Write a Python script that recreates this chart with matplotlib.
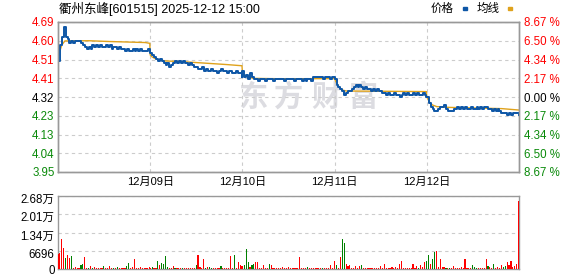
import matplotlib
matplotlib.use('Agg')
import matplotlib.pyplot as plt
import matplotlib.transforms as mtransforms
from matplotlib.patches import Rectangle, PathPatch
from matplotlib.path import Path
import numpy as np

plt.rcParams['font.family'] = ['Liberation Sans', 'Noto Sans CJK SC']

# ---- data (5 trading days, one price every 5 minutes, 241 minutes per day) ----
title = '衢州东峰[601515] 2025-12-12 15:00'
prev_close = 4.32
date_labels = ['12月09日', '12月10日', '12月11日', '12月12日']
price_labels = ['3.95', '4.04', '4.13', '4.23', '4.32', '4.41', '4.51', '4.60', '4.69']
pct_labels = ['8.67 %', '6.50 %', '4.34 %', '2.17 %', '0.00 %', '2.17 %', '4.34 %', '6.50 %', '8.67 %']
vol_ticks = [0, 6696, 13392, 20088, 26784]
vol_labels = ['0', '6696', '1.34万', '2.01万', '2.68万']

day1_price = [4.50, 4.58, 4.62, 4.67, 4.62, 4.61, 4.59, 4.60, 4.59, 4.60,
              4.60, 4.60, 4.59, 4.58, 4.57, 4.56, 4.57, 4.56, 4.58, 4.57,
              4.58, 4.57, 4.58, 4.57, 4.57, 4.58, 4.57, 4.58, 4.56, 4.57,
              4.57, 4.56, 4.57, 4.56, 4.56, 4.55, 4.56, 4.55, 4.55, 4.56,
              4.55, 4.56, 4.55, 4.56, 4.55, 4.55, 4.55, 4.56, 4.55]
day2_price = [4.54, 4.53, 4.52, 4.51, 4.50, 4.51, 4.50, 4.49, 4.48, 4.49,
              4.47, 4.48, 4.49, 4.50, 4.49, 4.50, 4.49, 4.50, 4.49, 4.49,
              4.48, 4.49, 4.48, 4.47, 4.47, 4.46, 4.46, 4.47, 4.45, 4.46,
              4.45, 4.45, 4.46, 4.45, 4.45, 4.44, 4.45, 4.46, 4.45, 4.45,
              4.44, 4.45, 4.45, 4.44, 4.44, 4.45, 4.44, 4.44, 4.42]
day3_price = [4.45, 4.42, 4.43, 4.41, 4.44, 4.42, 4.41, 4.41, 4.40, 4.41,
              4.41, 4.41, 4.40, 4.41, 4.41, 4.41, 4.40, 4.41, 4.41, 4.41,
              4.41, 4.41, 4.40, 4.41, 4.41, 4.41, 4.41, 4.40, 4.41, 4.41,
              4.41, 4.40, 4.41, 4.40, 4.41, 4.41, 4.40, 4.42, 4.42, 4.42,
              4.42, 4.42, 4.41, 4.42, 4.42, 4.42, 4.41, 4.42, 4.42]
day4_price = [4.41, 4.38, 4.37, 4.36, 4.35, 4.33, 4.34, 4.35, 4.35, 4.36,
              4.37, 4.38, 4.37, 4.38, 4.37, 4.36, 4.37, 4.36, 4.36, 4.35,
              4.36, 4.35, 4.36, 4.35, 4.35, 4.34, 4.34, 4.33, 4.34, 4.33,
              4.33, 4.34, 4.33, 4.33, 4.32, 4.33, 4.34, 4.33, 4.34, 4.33,
              4.33, 4.34, 4.33, 4.34, 4.33, 4.33, 4.34, 4.33, 4.32]
day5_price = [4.32, 4.29, 4.27, 4.26, 4.25, 4.25, 4.26, 4.27, 4.27, 4.28,
              4.26, 4.25, 4.25, 4.25, 4.26, 4.26, 4.27, 4.26, 4.27, 4.26,
              4.27, 4.26, 4.26, 4.27, 4.26, 4.26, 4.27, 4.26, 4.27, 4.26,
              4.27, 4.27, 4.26, 4.26, 4.25, 4.26, 4.25, 4.26, 4.25, 4.24,
              4.24, 4.24, 4.23, 4.24, 4.23, 4.24, 4.24, 4.24, 4.23]

# average line: (minute of day, value)
day1_avg_t = [0, 5, 10, 18, 80, 136, 228, 240]
day1_avg = [4.52, 4.55, 4.58, 4.60, 4.601, 4.597, 4.592, 4.588]
day2_avg_t = [0, 5, 15, 25, 40, 80, 120, 160, 200, 240]
day2_avg = [4.53, 4.52, 4.51, 4.505, 4.50, 4.497, 4.492, 4.487, 4.482, 4.476]
day3_avg_t = [0, 5, 15, 30, 100, 240]
day3_avg = [4.44, 4.43, 4.42, 4.413, 4.411, 4.412]
day4_avg_t = [0, 5, 12, 20, 30, 240]
day4_avg = [4.41, 4.39, 4.37, 4.355, 4.35, 4.347]
day5_avg_t = [0, 4, 9, 15, 26, 60, 196, 227, 240]
day5_avg = [4.32, 4.305, 4.29, 4.28, 4.272, 4.268, 4.262, 4.257, 4.255]

# volume per 5 minutes, r = up, g = down
day1_vol = [5600, 5800, 10900, 7800, 4100, 5300, 4200, 4700, 500, 600,
            300, 300, 1600, 1700, 4300, 400, 500, 1200, 400, 800,
            300, 300, 300, 300, 1200, 300, 300, 1200, 300, 300,
            300, 800, 300, 300, 300, 300, 1200, 2100, 300, 700,
            3800, 300, 300, 800, 300, 300, 500, 300, 800]
day1_dir = 'rrrrgrrgrrrrggrrgrgrrrrrgrrrrgrgrrrrggrrrrrrrrrrr'
day2_vol = [300, 600, 300, 300, 3100, 1600, 2100, 1900, 4600, 800,
            300, 300, 1200, 400, 300, 300, 300, 400, 300, 300,
            300, 300, 300, 300, 1600, 5000, 700, 300, 3800, 300,
            600, 600, 400, 400, 300, 300, 300, 1200, 300, 300,
            300, 300, 4600, 300, 5300, 300, 2400, 1600, 1000]
day2_dir = 'rgrrgrgggg' 'rrrgrrrgrr' 'rrrrgrrrrg' 'rggrrrrgrr' 'rrrrgrrrr'
day3_vol = [400, 1400, 7400, 2500, 900, 1600, 2000, 2400, 2400, 300,
            300, 1600, 400, 300, 2000, 1600, 300, 300, 300, 300,
            300, 900, 300, 300, 900, 300, 300, 300, 300, 300,
            4300, 300, 300, 300, 900, 300, 300, 300, 400, 300,
            300, 300, 300, 300, 300, 400, 1400, 300, 300]
day3_dir = 'rgggrggrrr' 'rrrrgrrrrr' 'rrrrrrrrrr' 'rrrrgrrrrr' 'rrgrrrrrr'
day4_vol = [3100, 1400, 300, 4300, 10900, 9400, 2000, 1200, 1400, 300,
            300, 1200, 300, 1200, 1600, 300, 300, 300, 300, 300,
            500, 300, 300, 300, 1000, 300, 2000, 300, 300, 300,
            900, 300, 700, 300, 2000, 3100, 500, 500, 300, 300,
            300, 2000, 300, 1200, 500, 1600, 600, 2500, 600]
day4_dir = 'rgrrggrrrr' 'rrrrgrrrrr' 'rrrrrrrrrr' 'rrrrrrrrrr' 'rrrrgrrrg'
day5_vol = [2900, 5100, 2000, 3500, 6400, 6500, 600, 3800, 600, 800,
            400, 500, 400, 300, 1200, 300, 300, 300, 700, 300,
            3800, 300, 300, 300, 1600, 700, 400, 300, 300, 300,
            300, 3500, 1200, 700, 300, 2000, 300, 700, 300, 1600,
            700, 1200, 2700, 1500, 3100, 700, 1200, 2000, 25000]
day5_dir = 'ggrggrrrrr' 'grgrrrrrrr' 'rrrrgggrrr' 'rrgrrgrrrr' 'ggrrrrrrr'

day_prices = [day1_price, day2_price, day3_price, day4_price, day5_price]
day_avg_t = [day1_avg_t, day2_avg_t, day3_avg_t, day4_avg_t, day5_avg_t]
day_avg = [day1_avg, day2_avg, day3_avg, day4_avg, day5_avg]
day_vol = [day1_vol, day2_vol, day3_vol, day4_vol, day5_vol]
day_dir = [day1_dir, day2_dir, day3_dir, day4_dir, day5_dir]

MIN_PER_DAY = 241
STEP = 5

# ---- build series ----
px, py, ax_t, ax_v, vx, vv, vc = [], [], [], [], [], [], []
for d in range(5):
    base = d * MIN_PER_DAY
    for k, p in enumerate(day_prices[d]):
        px.append(base + k * STEP)
        py.append(p)
    for t, v in zip(day_avg_t[d], day_avg[d]):
        ax_t.append(base + t)
        ax_v.append(v)
    for k, (v, c) in enumerate(zip(day_vol[d], day_dir[d])):
        vx.append(base + k * STEP)
        vv.append(v)
        vc.append('#ff0000' if c == 'r' else '#008000')

W, H = 578, 276
fig = plt.figure(figsize=(W / 100, H / 100), dpi=100)


def box(l, t, r, b):
    return [l / W, 1 - b / H, (r - l) / W, (b - t) / H]


GRID = dict(color='#cccccc', linestyle=(0, (3, 3)), linewidth=0.8)
SPINE = '#999999'
RED, GREEN = '#ff0000', '#0a8a0a'

ax = fig.add_axes(box(58, 22, 519, 172))
axv = fig.add_axes(box(58, 196, 519, 269))

lo, hi = prev_close * (1 - 0.0867), prev_close * (1 + 0.0867)
total = 5 * MIN_PER_DAY

# price panel
ax.plot(px, py, color='#0d56a6', lw=1.4, drawstyle='steps-post', zorder=3)
ax.plot(ax_t, ax_v, color='#dfa21c', lw=1.0, zorder=2.5)
ax.set_xlim(0, total)
ax.set_ylim(lo, hi)
yt = np.linspace(lo, hi, 9)
ax.set_yticks(yt)
ax.set_yticklabels(price_labels, fontsize=8.3)
ax.set_xticks([MIN_PER_DAY * i for i in range(1, 5)])
ax.set_xticklabels(date_labels, fontsize=8)
ax.tick_params(axis='both', length=0)
ax.tick_params(axis='y', pad=2.5)
ax.tick_params(axis='x', pad=3.5)
ax.grid(True, **GRID)
ax.set_axisbelow(True)
for i, lab in enumerate(ax.get_yticklabels()):
    lab.set_color(RED if i > 4 else ('black' if i == 4 else GREEN))

axr = ax.twinx()
axr.set_ylim(lo, hi)
axr.set_yticks(yt)
axr.set_yticklabels(pct_labels, fontsize=8.3)
axr.tick_params(axis='y', length=0, pad=3.5)
for i, lab in enumerate(axr.get_yticklabels()):
    lab.set_color(RED if i > 4 else ('black' if i == 4 else GREEN))

for a in (ax, axr, axv):
    for s in a.spines.values():
        s.set_color(SPINE)
        s.set_linewidth(1.0)

# watermark
wm = '#dcdce1'
for ch, xc in zip('东方财富', [253, 289, 326, 363]):
    ax.text(xc / W, 1 - 97 / H, ch, transform=fig.transFigure, ha='center', va='center',
            fontsize=21, fontweight='bold', color=wm, zorder=0.2,
            family=['Noto Sans CJK SC'])
icon = fig.add_axes(box(197, 76, 238, 112), zorder=-1)
icon.set_xlim(0, 1)
icon.set_ylim(0, 1)
icon.axis('off')
for x0, x1, y1 in [(0.05, 0.45, 0.95), (0.25, 0.75, 0.85), (0.45, 0.98, 0.65)]:
    verts = [(x0, 0.0), (x0 + 0.05, 0.55), (x1 - 0.2, y1), (x1, y1)]
    path = Path(verts, [Path.MOVETO, Path.CURVE4, Path.CURVE4, Path.CURVE4])
    icon.add_patch(PathPatch(path, fill=False, lw=4, color=wm, capstyle='round'))

# volume panel
axv.bar(vx, vv, width=3, color=vc, linewidth=0, zorder=3)
axv.set_xlim(0, total)
axv.set_ylim(0, vol_ticks[-1])
axv.set_yticks(vol_ticks)
axv.set_yticklabels(vol_labels, fontsize=8.3)
axv.set_xticks([])
axv.tick_params(axis='y', length=0, pad=2.5)
axv.grid(True, axis='y', **GRID)
axv.set_axisbelow(True)
off = mtransforms.ScaledTranslation(0, -2.5 / 100, fig.dpi_scale_trans)
for lab in axv.get_yticklabels()[1:]:
    lab.set_transform(lab.get_transform() + off)

# title and legend
fig.text(59 / W, 1 - 9 / H, title, ha='left', va='center', fontsize=9)
fig.text(442 / W, 1 - 9 / H, '价格', ha='center', va='center', fontsize=8.3)
fig.text(488 / W, 1 - 9 / H, '均线', ha='center', va='center', fontsize=8.3)
fig.add_artist(Rectangle((463 / W, 1 - 9.5 / H), 4 / W, 2.5 / H,
                         transform=fig.transFigure, color='#0d56a6'))
fig.add_artist(Rectangle((508 / W, 1 - 9.5 / H), 4 / W, 2.5 / H,
                         transform=fig.transFigure, color='#dfa21c'))

fig.savefig('out.png', dpi=100)
